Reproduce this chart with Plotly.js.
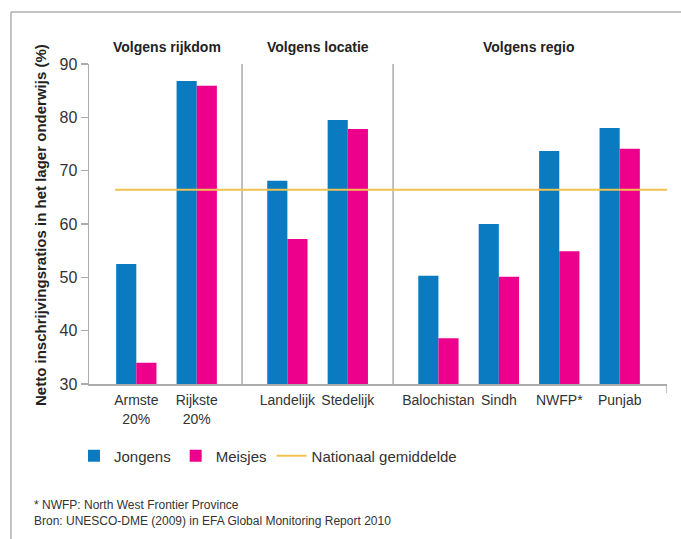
<!DOCTYPE html>
<html>
<head>
<meta charset="utf-8">
<script src="https://cdn.plot.ly/plotly-3.0.1.min.js"></script>
<style>html,body{margin:0;padding:0;background:#fff;}#chart{width:681px;height:539px;}</style>
</head>
<body>
<div id="chart"></div>
<script>
// Data
const categories = ["Armste<br>20%", "Rijkste<br>20%", "Landelijk", "Stedelijk", "Balochistan", "Sindh", "NWFP*", "Punjab"];
const positions = [0, 1, 2.5, 3.5, 5, 6, 7, 8];
const jongens = [52.5, 86.8, 68.1, 79.5, 50.3, 60.0, 73.7, 78.0];
const meisjes = [34.0, 85.9, 57.2, 77.8, 38.6, 50.1, 54.9, 74.1];
const nationaalGemiddelde = 66.4;
const groupTitles = ["Volgens rijkdom", "Volgens locatie", "Volgens regio"];
const groupCenters = [0.5, 3, 6.5];
const separators = [1.75, 4.25];
const yTicks = [30, 40, 50, 60, 70, 80, 90];

const textColor = "#333333";
const font = "'Liberation Sans', Arial, sans-serif";
const gray = "#ababab";

const xMin = -0.783, xMax = 8.783;

const traces = [
  {type: "bar", name: "Jongens", x: positions, y: jongens, marker: {color: "#0a7bc0"}, hoverinfo: "y"},
  {type: "bar", name: "Meisjes", x: positions, y: meisjes, marker: {color: "#ec008c"}, hoverinfo: "y"},
  {type: "scatter", mode: "lines", name: "Nationaal gemiddelde", x: [-0.35, xMax], y: [nationaalGemiddelde, nationaalGemiddelde],
   line: {color: "#f2c24f", width: 2}, hoverinfo: "y"}
];

const shapes = [];
separators.forEach(s => shapes.push({type: "line", xref: "x", yref: "y", x0: s, x1: s, y0: 30, y1: 90, line: {color: gray, width: 1.5}, layer: "below"}));
// end tick on x axis
shapes.push({type: "line", xref: "x", yref: "paper", x0: xMax, x1: xMax, y0: 0, y1: -0.028, line: {color: gray, width: 1.5}});
// frame
shapes.push({type: "line", xref: "paper", yref: "paper", x0: -0.135, x1: 1.05, y0: 1.1625, y1: 1.1625, line: {color: "#b0b0b0", width: 1.5}});
shapes.push({type: "line", xref: "paper", yref: "paper", x0: -0.135, x1: -0.135, y0: 1.1625, y1: -0.6, line: {color: "#b0b0b0", width: 1.5}});

const L = 89, T = 64, W = 578, H = 320;
const annotations = [];
groupTitles.forEach((t, i) => annotations.push({text: "<b>" + t + "</b>", x: groupCenters[i], xref: "x", y: 1.053, yref: "paper",
  showarrow: false, xanchor: "center", yanchor: "middle", font: {size: 14, color: "#222", family: font}}));
annotations.push({text: "<b>Netto inschrijvingsratios in het lager onderwijs (%)</b>", x: (40 - L) / W, xref: "paper", y: (T + H - 225) / H, yref: "paper",
  textangle: -90, showarrow: false, xanchor: "center", yanchor: "middle", font: {size: 15, color: "#222", family: font}});
annotations.push({text: "* NWFP: North West Frontier Province", x: (32 - L) / W, xref: "paper", y: (T + H - 505) / H, yref: "paper", showarrow: false,
  xanchor: "left", yanchor: "middle", font: {size: 12, color: textColor, family: font}});
annotations.push({text: "Bron: UNESCO-DME (2009) in EFA Global Monitoring Report 2010", x: (32 - L) / W, xref: "paper", y: (T + H - 521) / H, yref: "paper", showarrow: false,
  xanchor: "left", yanchor: "middle", font: {size: 12, color: textColor, family: font}});

const layout = {
  width: 681, height: 539,
  margin: {l: L, r: 681 - L - W, t: T, b: 539 - T - H},
  paper_bgcolor: "#fff", plot_bgcolor: "#fff",
  font: {family: font, color: textColor, size: 15},
  barmode: "group", bargap: 0.333, bargroupgap: 0,
  showlegend: true,
  legend: {orientation: "h", x: -0.026, xanchor: "left", y: -0.225, yanchor: "middle", font: {size: 15, color: textColor}, traceorder: "normal"},
  xaxis: {range: [xMin, xMax], tickvals: positions, ticktext: categories, tickangle: 0, showline: true, linecolor: gray, linewidth: 1.5,
    ticks: "", ticklabelstandoff: 3, showgrid: false, zeroline: false, tickfont: {size: 14, color: textColor}, fixedrange: true},
  yaxis: {range: [30, 90], tickvals: yTicks, showline: true, linecolor: gray, linewidth: 1.5, ticks: "outside", ticklen: 7,
    tickcolor: gray, tickwidth: 1.5, showgrid: false, zeroline: false, tickfont: {size: 16, color: textColor}, fixedrange: true},
  shapes: shapes,
  annotations: annotations
};

Plotly.newPlot("chart", traces, layout, {displayModeBar: false, staticPlot: true});
</script>
</body>
</html>
